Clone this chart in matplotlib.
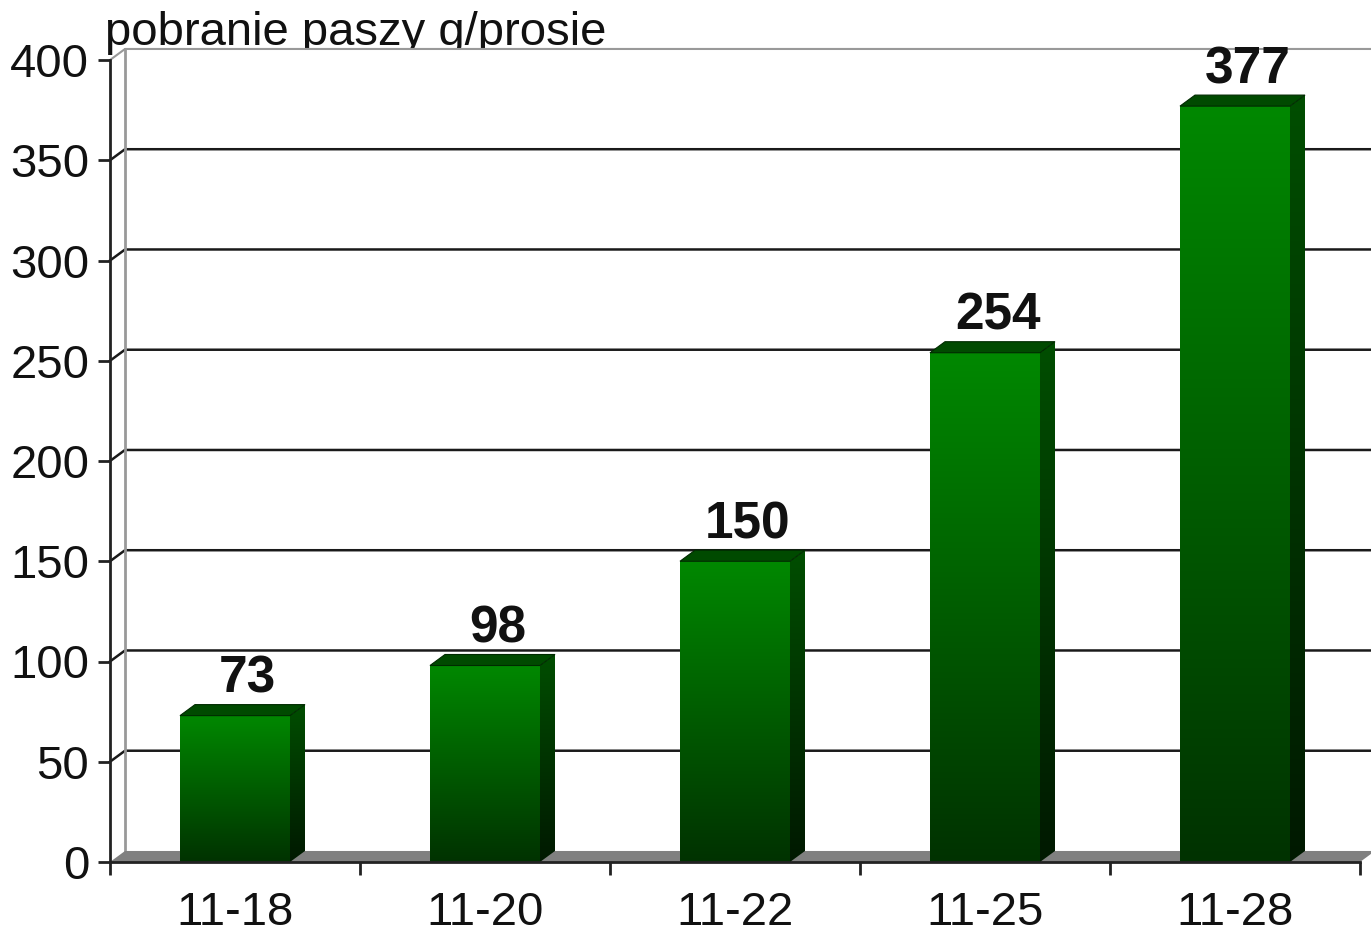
import numpy as np
import matplotlib.pyplot as plt
from matplotlib.patches import Polygon

# dane
dates = ['11-18', '11-20', '11-22', '11-25', '11-28']
feed = [73, 98, 150, 254, 377]
y_ticks = [0, 50, 100, 150, 200, 250, 300, 350, 400]
title = 'pobranie paszy g/prosie'

plt.rcParams['font.family'] = ['Liberation Sans', 'DejaVu Sans']

W, H = 1371, 936
fig = plt.figure(figsize=(W / 100, H / 100), dpi=100)
ax = fig.add_axes([110 / W, (H - 862) / H, 1250 / W, 802 / H])
ax.set_facecolor('none')

x_min, x_max = -0.5, len(dates) - 0.5
y_max = 400
dx, dy = 0.06, 5.5        # glebia "3D" w jednostkach danych
bar_w = 0.44

# tylna sciana (biala) - przykrywa dolne elementy tytulu
ax.add_patch(Polygon([(x_min, 0), (x_min + dx, dy), (x_min + dx, y_max + dy),
                      (x_max + dx, y_max + dy), (x_max + dx, 0)],
                     closed=True, facecolor='white', edgecolor='none',
                     zorder=0.5, clip_on=False))

# linie siatki na tylnej scianie
for t in y_ticks[1:-1]:
    ax.plot([x_min, x_min + dx, x_max + dx], [t, t + dy, t + dy],
            color='#1a1a1a', lw=1.8, zorder=1, clip_on=False)
# ramka tylnej sciany
ax.plot([x_min, x_min + dx, x_max + dx], [y_max, y_max + dy, y_max + dy],
        color='#999999', lw=1.5, zorder=1, clip_on=False)
ax.plot([x_min + dx, x_min + dx], [dy, y_max + dy],
        color='#999999', lw=2, zorder=1, clip_on=False)

# podloga
ax.add_patch(Polygon([(x_min, 0), (x_max, 0), (x_max + dx, dy), (x_min + dx, dy)],
                     closed=True, facecolor='#808080', edgecolor='none',
                     zorder=1.5, clip_on=False))

front_top = np.array([0, 136, 0]) / 255
front_bot = np.array([0, 50, 0]) / 255
side_top = np.array([0, 78, 0]) / 255
side_bot = np.array([0, 25, 0]) / 255
n = 200
g = np.linspace(0, 1, n)[:, None]
front_grad = (front_top * (1 - g) + front_bot * g)[:, None, :]
side_grad = (side_top * (1 - g) + side_bot * g)[:, None, :]

for i, v in enumerate(feed):
    x0, x1 = i - bar_w / 2, i + bar_w / 2
    # przod
    ax.imshow(front_grad, extent=[x0, x1, 0, v], aspect='auto',
              interpolation='bilinear', zorder=3)
    # bok
    side = Polygon([(x1, 0), (x1 + dx, dy), (x1 + dx, v + dy), (x1, v)],
                   closed=True, facecolor='none', edgecolor='none', zorder=3)
    ax.add_patch(side)
    im = ax.imshow(side_grad, extent=[x1, x1 + dx, 0, v + dy], aspect='auto',
                   interpolation='bilinear', zorder=3)
    im.set_clip_path(side)
    # gora
    ax.add_patch(Polygon([(x0, v), (x1, v), (x1 + dx, v + dy), (x0 + dx, v + dy)],
                         closed=True, facecolor='#004a00', edgecolor='#002a00',
                         lw=0.8, zorder=3.5))
    ax.text(i + 0.05, v + dy + 6, str(v), ha='center', va='baseline',
            fontsize=37, fontweight='bold', color='#111111', zorder=5)

ax.set_xlim(x_min, x_max)
ax.set_ylim(0, y_max)

# osie
for s in ['top', 'right']:
    ax.spines[s].set_visible(False)
ax.spines['left'].set_linewidth(2)
ax.spines['bottom'].set_linewidth(2)
ax.spines['left'].set_color('#222222')
ax.spines['bottom'].set_color('#222222')
ax.spines['bottom'].set_zorder(4)

ax.set_yticks(y_ticks)
ax.tick_params(axis='y', direction='out', length=9, width=2, color='#222222',
               labelsize=34, pad=6, labelcolor='#111111')

ax.set_xticks(np.arange(-0.5, len(dates), 1.0))
ax.set_xticklabels([])
ax.set_xticks(np.arange(len(dates)), minor=True)
ax.set_xticklabels(dates, minor=True)
ax.tick_params(axis='x', which='major', direction='out', length=9, width=2,
               color='#222222')
ax.tick_params(axis='x', which='minor', length=0, labelsize=34, pad=21,
               labelcolor='#111111')

# tytul pod obszarem wykresu
fig.text(105 / W, 1 - 45 / H, title, fontsize=34, color='#111111',
         ha='left', va='baseline', zorder=-1)

fig.savefig('out.png', dpi=100, facecolor='white')
